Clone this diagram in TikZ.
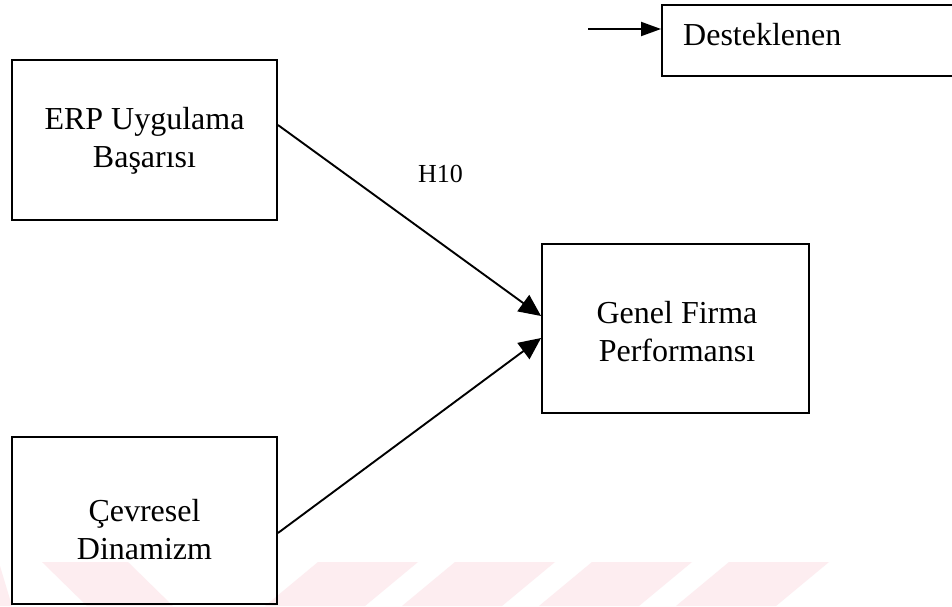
\documentclass[tikz,border=0pt]{standalone}
\usepackage{fontspec}
\setmainfont{Liberation Serif}
\usetikzlibrary{arrows.meta}
\definecolor{wmark}{RGB}{253,237,240}
\begin{document}
\begin{tikzpicture}[x=1pt,y=-1pt,
  box/.style={draw=black, line width=1.9pt, rectangle, inner sep=0pt},
  lbl/.style={font=\fontsize{32}{38}\selectfont, align=center, inner sep=0pt},
  link/.style={line width=1.9pt, -{Triangle[length=22pt,width=20pt]}},
  keylink/.style={line width=1.9pt, -{Triangle[length=20pt,width=14pt]}},
]
\useasboundingbox (0,0) rectangle (952,606);
\fill[white] (0,0) rectangle (952,606);
\begin{scope}
\clip (0,0) rectangle (952,606);
% faint stripe pattern along the bottom edge
\fill[wmark] (0,566) -- (12,606) -- (0,606) -- cycle;
\fill[wmark] (42,562) -- (128,562) -- (173,606) -- (87,606) -- cycle;
\foreach \a in {318,455,592,729}
  \fill[wmark] (\a,562) -- (\a+100,562) -- (\a+47,606) -- (\a-53,606) -- cycle;

% boxes
\node[box, minimum width=265pt, minimum height=160pt] (erp) at (144.5,140) {};
\node[box, minimum width=265pt, minimum height=167pt] (cev) at (144.5,520.5) {};
\node[box, minimum width=267pt, minimum height=169pt] (gen) at (675.5,328.5) {};
\node[box, minimum width=318pt, minimum height=71pt] (des) at (821,40.5) {};

% box texts
\node[lbl] (erptext) at (144.5,141) {ERP Uygulama\\Başarısı};
\node[lbl] (cevtext) at (144.5,530) {Çevresel\\Dinamizm};
\node[lbl] (gentext) at (677,332) {Genel Firma\\Performansı};
\node[lbl, anchor=base west] (destext) at (683,45) {Desteklenen};
\node[font=\fontsize{26}{30}\selectfont, anchor=base west, inner sep=0pt] (h10) at (418,182) {H10};

% connectors
\draw[link] ([yshift=15pt]erp.east) -- ([yshift=12.5pt]gen.west);
\draw[link] ([yshift=-12.5pt]cev.east) -- ([yshift=-9.5pt]gen.west);
\coordinate (keyfrom) at (588,29);
\draw[keylink] (keyfrom) -- (des.west |- keyfrom);
\end{scope}
\end{tikzpicture}
\end{document}
